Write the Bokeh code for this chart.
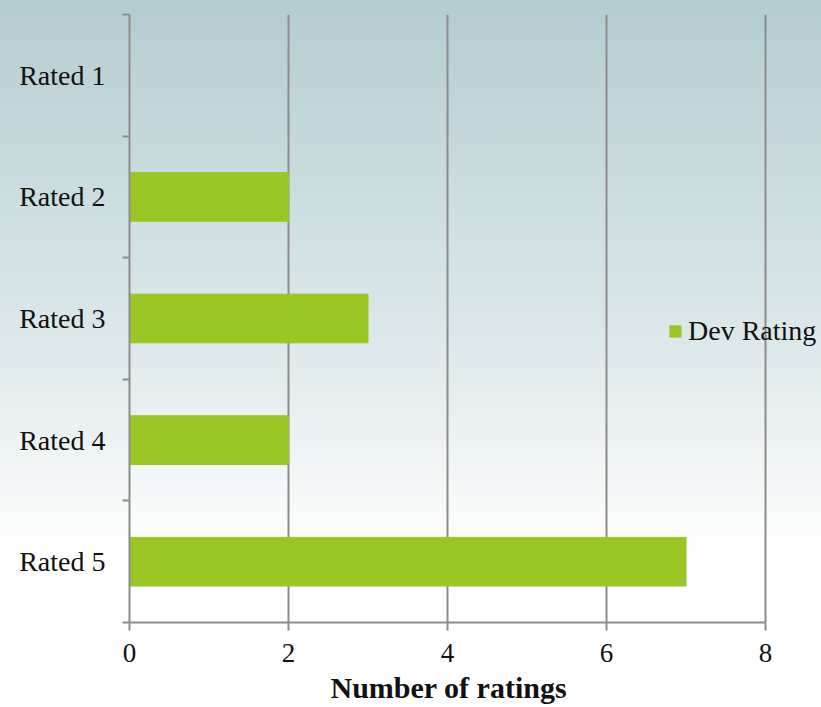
from bokeh.plotting import figure
from bokeh.models import (Range1d, FactorRange, LinearAxis, CategoricalAxis, FixedTicker,
                          CustomJSTickFormatter, Legend, LegendItem, ColumnDataSource, Title)
from bokeh.embed import file_html
from bokeh.resources import INLINE

categories = ["Rated 1", "Rated 2", "Rated 3", "Rated 4", "Rated 5"]
dev_rating = [0, 2, 3, 2, 7]
x_ticks = [0, 2, 4, 6, 8]
boundary_ticks = [0, 1, 2, 3, 4, 5]
series_name = "Dev Rating"
x_title = "Number of ratings"

FONT = "Liberation Serif"
GREY = "#8c8c8c"
BAR = "#99c623"

p = figure(width=821, height=707, output_backend="svg", toolbar_location=None,
           y_range=FactorRange(factors=categories[::-1], range_padding=0),
           x_range=Range1d(0, 8.704), y_axis_location=None,
           min_border_left=129, min_border_right=0, min_border_top=14, min_border_bottom=84)

p.styles = {"background": "linear-gradient(to bottom, #b3cccf 0%, #c9dcde 25%, #dde8ea 48%, #f3f7f7 68%, #ffffff 78%, #ffffff 100%)"}
p.background_fill_alpha = 0
p.border_fill_alpha = 0
p.outline_line_color = None

bax = LinearAxis(ticker=FixedTicker(ticks=boundary_ticks),
                 formatter=CustomJSTickFormatter(code="return ''"),
                 major_tick_out=7, major_tick_in=0, minor_tick_line_color=None,
                 axis_line_color=GREY, axis_line_width=2,
                 major_tick_line_color=GREY, major_tick_line_width=2,
                 major_label_standoff=0, major_label_text_font_size="1px")
p.add_layout(bax, "left")

cax = CategoricalAxis(axis_line_color=None, major_tick_line_color=None,
                      major_tick_out=0, major_tick_in=0,
                      major_label_text_font=FONT, major_label_text_font_size="28px",
                      major_label_text_color="#111111", major_label_standoff=17)
p.add_layout(cax, "left")

src = ColumnDataSource(data=dict(cat=categories, val=dev_rating))
r = p.hbar(y="cat", left=0, right="val", height=0.4, source=src,
           fill_color=BAR, line_color=BAR)

xa = p.xaxis[0]
xa.ticker = FixedTicker(ticks=x_ticks)
xa.bounds = (0, 8)
xa.major_tick_out = 8
xa.major_tick_in = 0
xa.minor_tick_line_color = None
xa.axis_line_color = GREY
xa.axis_line_width = 2
xa.major_tick_line_color = GREY
xa.major_tick_line_width = 2
xa.major_label_text_font = FONT
xa.major_label_text_font_size = "27px"
xa.major_label_text_color = "#111111"
xa.major_label_standoff = 13

p.add_layout(Title(text=x_title, align="left", offset=201, standoff=8,
                   text_font=FONT, text_font_size="30px", text_font_style="bold",
                   text_color="#111111"), "below")

p.xgrid.ticker = FixedTicker(ticks=x_ticks)
p.xgrid.grid_line_color = GREY
p.xgrid.grid_line_width = 2
p.ygrid.visible = False

legend = Legend(items=[LegendItem(label=series_name, renderers=[r])],
                location=(539, 275), orientation="vertical",
                glyph_width=14, glyph_height=14, label_standoff=6,
                padding=0, margin=0, spacing=0,
                label_text_font=FONT, label_text_font_size="28px",
                label_text_color="#111111",
                border_line_alpha=0, background_fill_alpha=0)
p.add_layout(legend, "center")

open("out.html", "w").write(file_html(p, INLINE))
